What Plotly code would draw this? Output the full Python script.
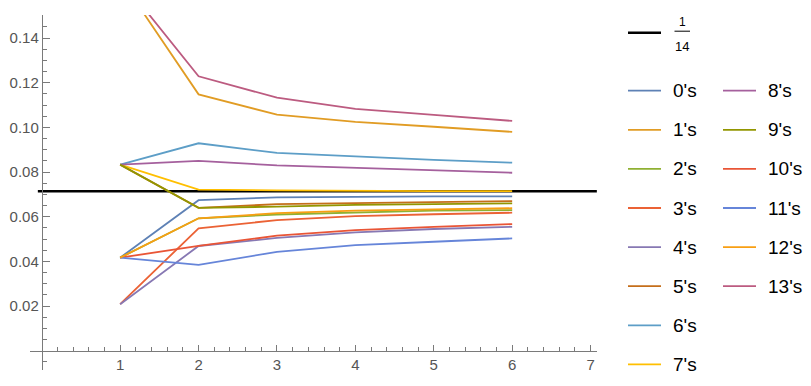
import numpy as np
import plotly.graph_objects as go

# ---------------- data ----------------
x_vals = [1, 2, 3, 4, 5, 6]
series_names = ["0's", "1's", "2's", "3's", "4's", "5's", "6's",
                "7's", "8's", "9's", "10's", "11's", "12's", "13's"]
s0 = [1/24, 0.0674, 0.0687, 0.0690, 0.0691, 0.0691]
s1 = [1/6, 0.1148, 0.1057, 0.1025, 0.1003, 0.0980]
s2 = [1/24, 0.0593, 0.0610, 0.0620, 0.0627, 0.0630]
s3 = [1/48, 0.0548, 0.0585, 0.0603, 0.0611, 0.0618]
s4 = [1/48, 0.0469, 0.0505, 0.0530, 0.0545, 0.0555]
s5 = [1/12, 0.0640, 0.0656, 0.0660, 0.0666, 0.0670]
s6 = [1/12, 0.0929, 0.0886, 0.0869, 0.0855, 0.0842]
s7 = [1/12, 0.0721, 0.0718, 0.0715, 0.0715, 0.0715]
s8 = [1/12, 0.0850, 0.0830, 0.0820, 0.0810, 0.0797]
s9 = [1/12, 0.0640, 0.0645, 0.0653, 0.0656, 0.0660]
s10 = [1/24, 0.0469, 0.0515, 0.0540, 0.0555, 0.0567]
s11 = [1/24, 0.0384, 0.0443, 0.0473, 0.0488, 0.0503]
s12 = [1/24, 0.0593, 0.0616, 0.0627, 0.0633, 0.0638]
s13 = [1/6, 0.1229, 0.1133, 0.1083, 0.1056, 0.1029]
series_values = [s0, s1, s2, s3, s4, s5, s6, s7, s8, s9, s10, s11, s12, s13]
ref_value = 1/14
ref_x = [-0.05, 7.08]

x_ticks = [1, 2, 3, 4, 5, 6, 7]
x_ticktext = ["1", "2", "3", "4", "5", "6", "7"]
y_ticks = [0.02, 0.04, 0.06, 0.08, 0.10, 0.12, 0.14]
y_ticktext = ["0.02", "0.04", "0.06", "0.08", "0.10", "0.12", "0.14"]

colors = ["#5E81B5", "#E19C24", "#8FB032", "#EB6235", "#8778B3", "#C56E1A",
          "#5D9EC7", "#FFBF00", "#A5609D", "#929600", "#E95536", "#6685D9",
          "#F89F13", "#BC5B80"]

# ---------------- layout geometry ----------------
OFF = 8  # default page body margin
W, H = 811 - OFF, 386 - 2 * OFF
ML, MT = 30 - OFF, 15 - OFF
PW, PH = 567, 355
MR, MB = W - ML - PW, H - MT - PH
XR = [-0.15, 7.082]
YR = [-0.00864, 0.15034]

FONT = "Liberation Sans, Arial, sans-serif"
AXC = "#7a7a7a"
LABC = "#555555"


def px(xp):
    # xp: pixel x in the 811-wide window
    return (xp - OFF - ML) / PW


def py(yp):
    return 1 - (yp - OFF - MT) / PH


fig = go.Figure()

fig.add_trace(go.Scatter(x=ref_x, y=[ref_value, ref_value], mode="lines",
                         line=dict(color="black", width=2.4),
                         showlegend=False, hoverinfo="skip"))

for name, vals, c in zip(series_names, series_values, colors):
    fig.add_trace(go.Scatter(x=x_vals, y=vals, mode="lines", name=name,
                             line=dict(color=c, width=1.8),
                             showlegend=False))

x_minor = [v for v in np.round(np.arange(0.2, 7.05, 0.2), 3) if abs(v - round(v)) > 1e-6]
y_minor = [v for v in np.round(np.arange(-0.005, 0.1501, 0.005), 4)
           if abs(v / 0.02 - round(v / 0.02)) > 1e-6]

fig.update_layout(
    width=W, height=H,
    margin=dict(l=ML, r=MR, t=MT, b=MB),
    paper_bgcolor="white", plot_bgcolor="white",
    font=dict(family=FONT, size=14, color=LABC),
    xaxis=dict(range=XR, anchor="free",
               position=(0 - YR[0]) / (YR[1] - YR[0]),
               showgrid=False, zeroline=False, showline=True,
               linecolor=AXC, linewidth=1,
               tickmode="array", tickvals=x_ticks, ticktext=x_ticktext,
               ticks="inside", ticklen=6, tickcolor=AXC, tickwidth=1,
               tickfont=dict(size=15, color=LABC),
               minor=dict(tickmode="array", tickvals=x_minor, ticks="inside",
                          ticklen=3.5, tickcolor=AXC, tickwidth=1, showgrid=False),
               automargin=False, fixedrange=True),
    yaxis=dict(range=YR, anchor="free",
               position=(0 - XR[0]) / (XR[1] - XR[0]),
               showgrid=False, zeroline=False, showline=True,
               linecolor=AXC, linewidth=1,
               tickmode="array", tickvals=y_ticks, ticktext=y_ticktext,
               ticks="inside", ticklen=7, tickcolor=AXC, tickwidth=1,
               tickfont=dict(size=15, color=LABC),
               minor=dict(tickmode="array", tickvals=y_minor, ticks="inside",
                          ticklen=4, tickcolor=AXC, tickwidth=1, showgrid=False),
               automargin=False, fixedrange=True),
)

# ---------------- manual legend ----------------
shapes = []
annotations = []

# 1/14 reference entry
shapes.append(dict(type="line", xref="paper", yref="paper",
                   x0=px(628), x1=px(661), y0=py(32.7), y1=py(32.7),
                   line=dict(color="black", width=2.4)))
shapes.append(dict(type="line", xref="paper", yref="paper",
                   x0=px(674.5), x1=px(690), y0=py(31.2), y1=py(31.2),
                   line=dict(color="black", width=1)))
annotations.append(dict(xref="paper", yref="paper", x=px(682), y=py(22.5),
                        text="1", showarrow=False, xanchor="center", yanchor="middle",
                        font=dict(family=FONT, size=12, color="black")))
annotations.append(dict(xref="paper", yref="paper", x=px(682), y=py(46.5),
                        text="14", showarrow=False, xanchor="center", yanchor="middle",
                        font=dict(family=FONT, size=13, color="black")))

row0, row_step = 90.7, 39.1
for i, (name, c) in enumerate(zip(series_names, colors)):
    col = 0 if i < 8 else 1
    row = i if i < 8 else i - 8
    yc = row0 + row * row_step
    lx0 = 628 + col * 95
    shapes.append(dict(type="line", xref="paper", yref="paper",
                       x0=px(lx0), x1=px(lx0 + 33), y0=py(yc), y1=py(yc),
                       line=dict(color=c, width=1.8)))
    annotations.append(dict(xref="paper", yref="paper", x=px(lx0 + 43), y=py(yc),
                            text=name, showarrow=False, xanchor="left", yanchor="middle",
                            font=dict(family=FONT, size=19, color="black")))

fig.update_layout(shapes=shapes, annotations=annotations)

fig.write_html("out.html")
